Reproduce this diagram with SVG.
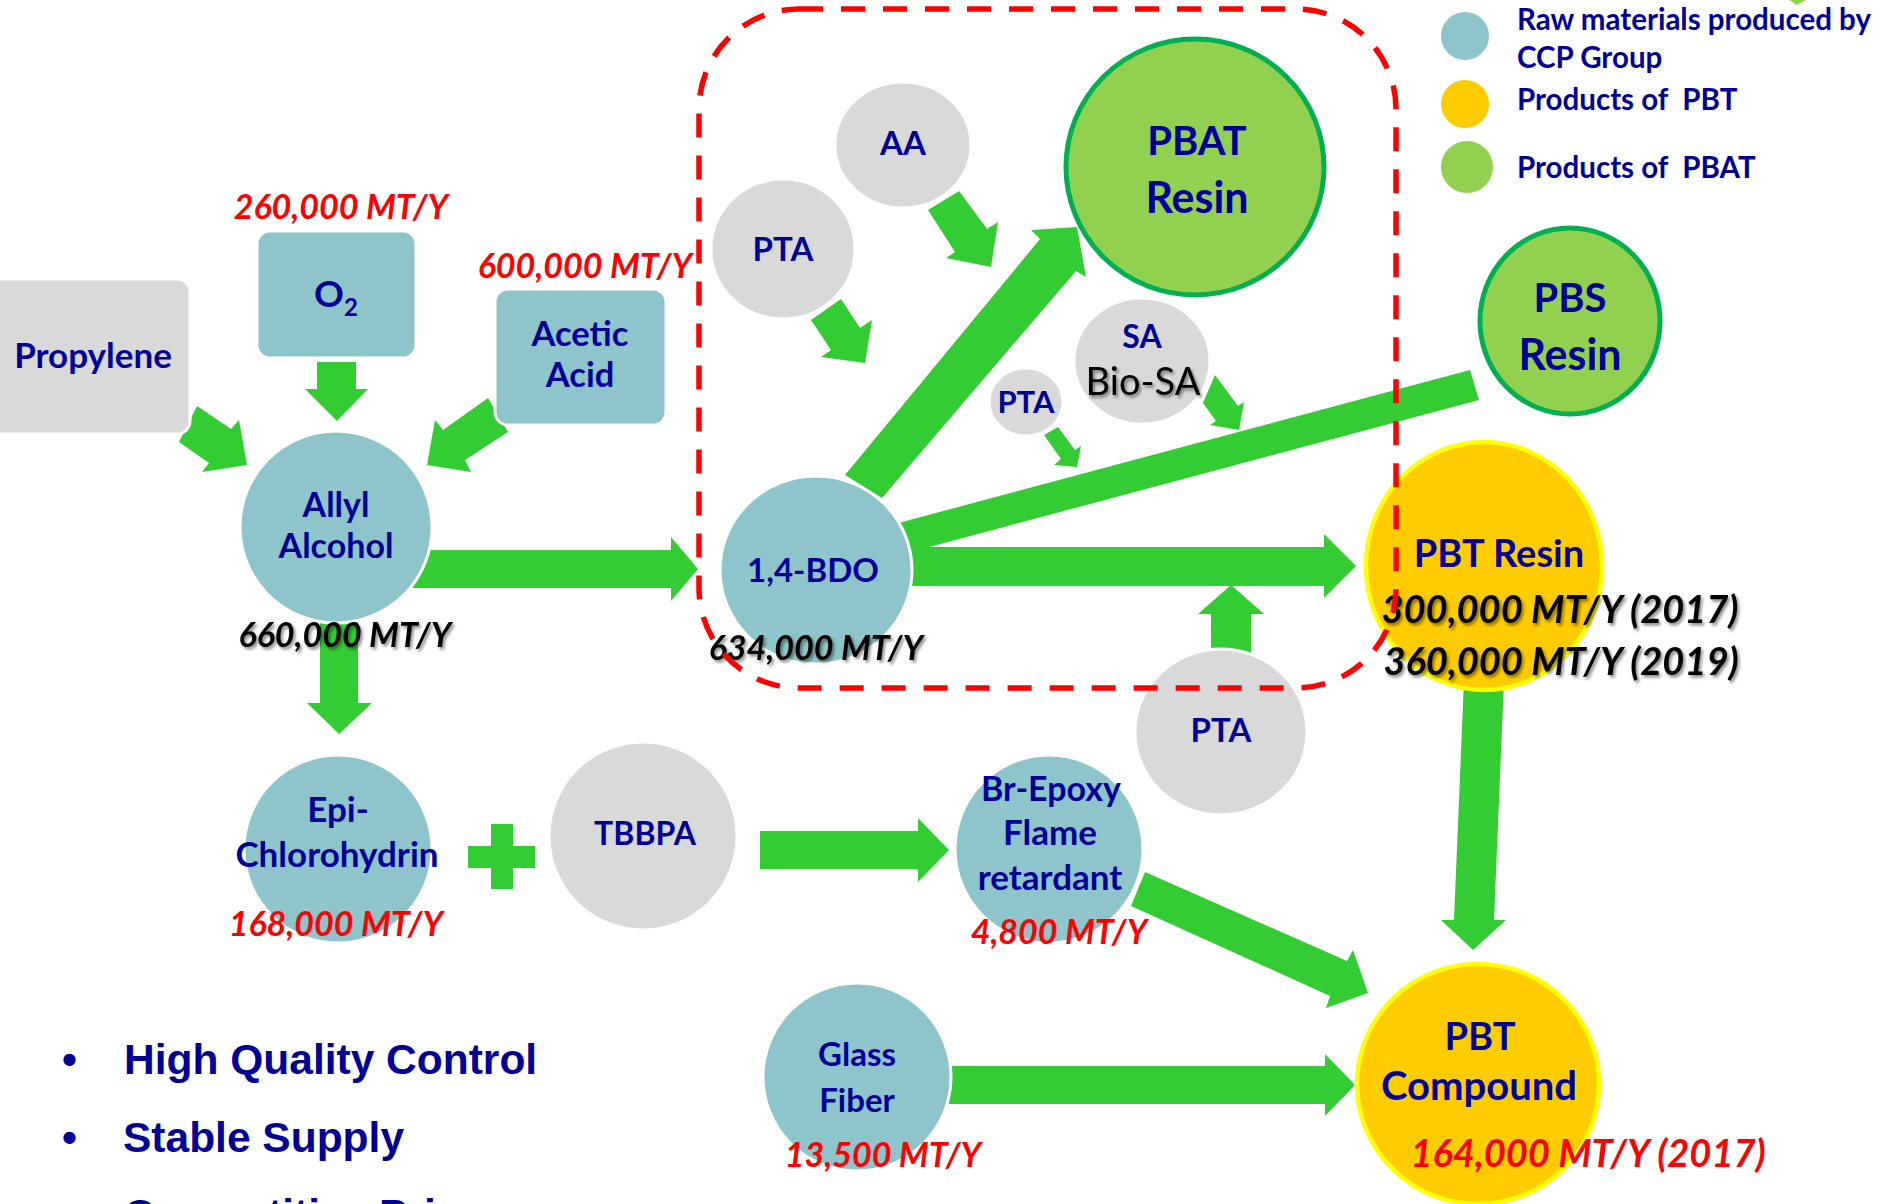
<svg xmlns="http://www.w3.org/2000/svg" width="1883" height="1204" viewBox="0 0 1883 1204">
<defs>
<filter id="shadow" x="-10%" y="-30%" width="130%" height="170%">
<feDropShadow dx="2" dy="2.5" stdDeviation="1.6" flood-color="#000" flood-opacity="0.45"/>
</filter>
</defs>
<style>
.arrow{fill:#33CC33}
.teal{fill:#8DC5CB;stroke:#fff;stroke-width:3}
.gray{fill:#D9D9D9;stroke:#fff;stroke-width:3}
.green{fill:#92D050;stroke:#00B050;stroke-width:5}
.yellow{fill:#FFCC00;stroke:#FFFF00;stroke-width:4.5}
.t{font-family:Lato,'Open Sans','DejaVu Sans',sans-serif;font-weight:700;fill:#000099;text-anchor:middle;font-size:33px}
.m{font-size:35px}
.big{font-size:40px}
.num{font-family:Lato,'Open Sans','DejaVu Sans',sans-serif;font-weight:700;font-style:italic;text-anchor:middle;font-size:34px}
.red{fill:#FF0000}
.blk{fill:#000;filter:url(#shadow)}
.lg{font-size:38px}
.frame{fill:none;stroke:#FF0000;stroke-width:5.5;stroke-dasharray:24 18}
.legend{font-family:Lato,'Open Sans','DejaVu Sans',sans-serif;font-weight:700;font-size:29.5px;fill:#000099;white-space:pre}
.bullet{font-family:'Liberation Sans',Arial,sans-serif;font-weight:700;font-size:42.5px;fill:#000099}
</style>
<rect width="1883" height="1204" fill="#fff"/>

<g id="connectors">
<polygon class="arrow" points="317,362 356,362 356,389 368,389 337,421 305,389 317,389"/>
<polygon class="arrow" points="197,406 231,429 239,420 247,465 202,472 209,463 179,442"/>
<polygon class="arrow" points="488,398 443,430 435,420 427,465 471,472 465,460 508,432"/>
<polygon class="arrow" points="400,550 671,550 671,537 698,569 671,601 671,588 400,588"/>
<polygon class="arrow" points="320,600 358,600 358,703 372,703 339,734 307,703 320,703"/>
<polygon class="arrow" points="928,210 955,252 946,258 991,267 998,222 987,229 959,191"/>
<polygon class="arrow" points="811,320 831,350 821,357 865,363 872,320 860,328 841,299"/>
<polygon class="arrow" points="845,475 1040,239 1031,230 1077,227 1086,277 1076,271 882,498"/>
<polygon class="arrow" points="1044,435 1061,459 1054,465 1077,467 1081,446 1075,450 1058,427"/>
<polygon class="arrow" points="1203,403 1216,421 1210,425 1239,430 1244,402 1238,406 1215,375"/>
<polygon class="arrow" points="891,525 1470,370 1479,400 899,555"/>
<polygon class="arrow" points="900,547 1324,547 1324,534 1356,566 1324,598 1324,586 900,586"/>
<polygon class="arrow" points="1211,665 1211,614 1198,614 1231,585 1264,614 1251,614 1251,665"/>
<polygon class="arrow" points="1464,680 1504,680 1494,920 1506,920 1473,950 1441,920 1454,920"/>
<polygon class="arrow" points="760,831 918,831 918,818 949,850 918,882 918,869 760,869"/>
<polygon class="arrow" points="1145,872 1347,961 1353,950 1368,993 1326,1008 1330,996 1131,906"/>
<polygon class="arrow" points="940,1066 1325,1066 1325,1054 1355,1085 1325,1116 1325,1104 940,1104"/>
<polygon class="arrow" points="491,824 513,824 513,846 535,846 535,868 513,868 513,889 491,889 491,868 468,868 468,846 491,846"/>
</g>

<g id="propylene">
<rect class="gray" x="-15" y="279" width="205" height="155" rx="13"/>
<text class="t m" x="93" y="368">Propylene</text>
</g>
<g id="o2">
<rect class="teal" x="257" y="231" width="159" height="127" rx="13"/>
<text class="t" x="336" y="307" style="font-size:37px">O<tspan dy="9" style="font-size:24px">2</tspan></text>
<text class="num red" x="341" y="219">260,000 MT/Y</text>
</g>
<g id="acetic-acid">
<rect class="teal" x="495" y="289" width="171" height="136" rx="13"/>
<text class="t" x="580" y="346" style="font-size:34.5px">Acetic</text>
<text class="t" x="580" y="387" style="font-size:34.5px">Acid</text>
<text class="num red" x="585" y="278">600,000 MT/Y</text>
</g>
<g id="allyl-alcohol">
<ellipse class="teal" cx="336" cy="527" rx="96" ry="96"/>
<text class="t" x="336" y="517" style="font-size:34px">Allyl</text>
<text class="t" x="336" y="558" style="font-size:34px">Alcohol</text>
<text class="num blk" x="345" y="647">660,000 MT/Y</text>
</g>
<g id="epichlorohydrin">
<ellipse class="teal" cx="338" cy="849" rx="94" ry="94"/>
<text class="t m" x="338" y="822">Epi-</text>
<text class="t m" x="337" y="867">Chlorohydrin</text>
<text class="num red" x="336" y="936">168,000 MT/Y</text>
</g>
<g id="tbbpa">
<ellipse class="gray" cx="643" cy="836" rx="94" ry="94"/>
<text class="t" x="645" y="845" style="font-size:32px">TBBPA</text>
</g>
<g id="bdo">
<ellipse class="teal" cx="816" cy="570" rx="96" ry="94"/>
<text class="t" x="813" y="582">1,4-BDO</text>
<text class="num blk" x="816" y="660">634,000 MT/Y</text>
</g>
<g id="aa">
<ellipse class="gray" cx="903" cy="145" rx="68" ry="63"/>
<text class="t" x="903" y="155">AA</text>
</g>
<g id="pta-1">
<ellipse class="gray" cx="783" cy="249" rx="72" ry="70"/>
<text class="t" x="783" y="261">PTA</text>
</g>
<g id="pbat-resin">
<ellipse class="green" cx="1195" cy="167" rx="129" ry="128"/>
<text class="t big" x="1197" y="155">PBAT</text>
<text class="t" x="1197" y="213" style="font-size:43px">Resin</text>
</g>
<g id="sa">
<ellipse class="gray" cx="1142" cy="361" rx="68" ry="63"/>
<text class="t" x="1142" y="348" style="font-size:32px">SA</text>
<text x="1143" y="395" style="font-family:Lato,'Open Sans','DejaVu Sans',sans-serif;font-size:38px;fill:#000;text-anchor:middle;filter:url(#shadow)">Bio-SA</text>
</g>
<g id="pta-2">
<ellipse class="gray" cx="1026" cy="402" rx="37" ry="34"/>
<text class="t" x="1026" y="413" style="font-size:31px">PTA</text>
</g>
<g id="pbs-resin">
<ellipse class="green" cx="1570" cy="321" rx="90" ry="93"/>
<text class="t big" x="1570" y="312">PBS</text>
<text class="t" x="1570" y="370" style="font-size:43px">Resin</text>
</g>
<g id="pbt-resin">
<ellipse class="yellow" cx="1484" cy="566" rx="118" ry="124"/>
<text class="t" x="1499" y="567" style="font-size:38px">PBT Resin</text>
<text class="num blk lg" x="1560" y="623">300,000 MT/Y (2017)</text>
<text class="num blk lg" x="1561" y="675">360,000 MT/Y (2019)</text>
</g>
<g id="pta-3">
<ellipse class="gray" cx="1221" cy="732" rx="86" ry="83"/>
<text class="t" x="1221" y="742">PTA</text>
</g>
<g id="br-epoxy">
<ellipse class="teal" cx="1049" cy="849" rx="94" ry="94"/>
<text class="t" x="1051" y="801" style="font-size:34px">Br-Epoxy</text>
<text class="t m" x="1050" y="845">Flame</text>
<text class="t m" x="1050" y="890">retardant</text>
<text class="num red" x="1059" y="944">4,800 MT/Y</text>
</g>
<g id="glass-fiber">
<ellipse class="teal" cx="857" cy="1077" rx="94" ry="94"/>
<text class="t" x="857" y="1066">Glass</text>
<text class="t" x="857" y="1112">Fiber</text>
<text class="num red" x="883" y="1167">13,500 MT/Y</text>
</g>
<g id="pbt-compound">
<ellipse class="yellow" cx="1478" cy="1084" rx="121" ry="120"/>
<text class="t" x="1480" y="1050" style="font-size:38px">PBT</text>
<text class="t" x="1479" y="1100" style="font-size:40px">Compound</text>
<text class="num red lg" x="1588" y="1167">164,000 MT/Y (2017)</text>
</g>

<g id="pbat-frame">
<rect class="frame" x="699" y="9" width="697" height="679" rx="100" ry="100"/>
</g>

<g id="legend">
<circle cx="1465" cy="36" r="24" fill="#8DC5CB"/>
<circle cx="1465" cy="104" r="24" fill="#FFCC00"/>
<circle cx="1467" cy="167" r="26" fill="#92D050"/>
<text class="legend" x="1517" y="30">Raw materials produced by</text>
<text class="legend" x="1517" y="68">CCP Group</text>
<text class="legend" x="1517" y="110">Products of  PBT</text>
<text class="legend" x="1517" y="178">Products of  PBAT</text>
<polygon points="1789,0 1806,0 1797,5" fill="#92D050"/>
</g>

<g id="bullets">
<text class="bullet" x="62" y="1074">•</text>
<text class="bullet" x="124" y="1074">High Quality Control</text>
<text class="bullet" x="62" y="1152">•</text>
<text class="bullet" x="123" y="1152">Stable Supply</text>
<text class="bullet" x="124" y="1229">Competitive Price</text>
</g>
</svg>
